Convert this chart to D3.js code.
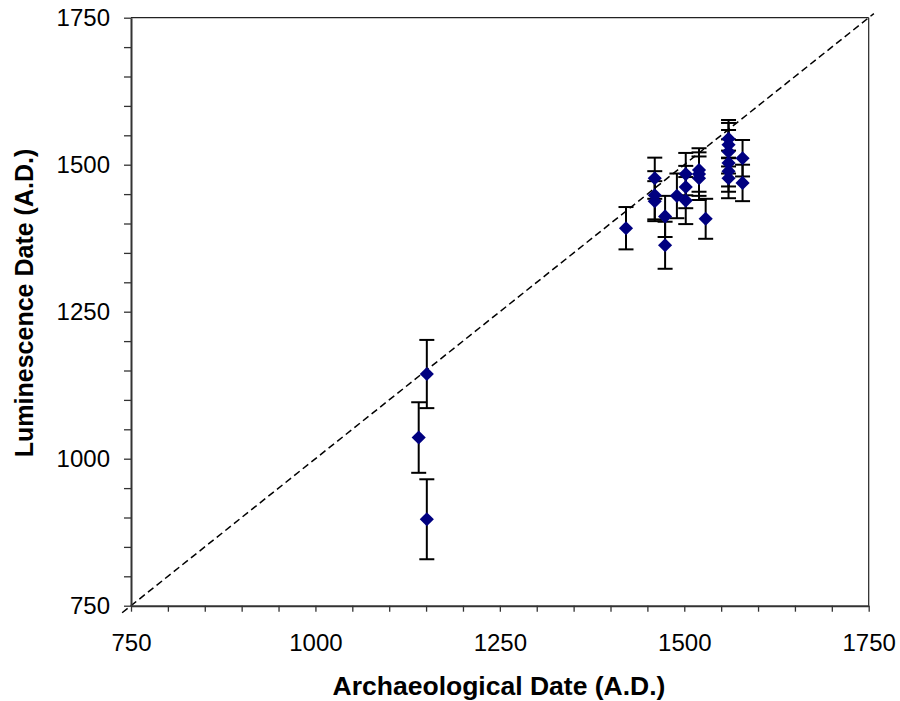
<!DOCTYPE html>
<html>
<head>
<meta charset="utf-8">
<script src="https://cdn.jsdelivr.net/npm/d3@7"></script>
<style>
  body { margin: 0; background: #fff; }
  svg { display: block; font-family: "Liberation Sans", Arial, sans-serif; }
</style>
</head>
<body>
<div id="chart"></div>
<script>
// Archaeological date (x), luminescence date (y) and its error (+/-)
const archDates = [1151, 1140, 1151, 1421, 1460, 1460, 1460, 1474, 1474, 1490, 1502, 1502, 1502,
    1520, 1520, 1520, 1529, 1560, 1560, 1560, 1560, 1560, 1560, 1579, 1579];
const lumDates = [1144, 1036, 897, 1392, 1477, 1448, 1438, 1412, 1363, 1447, 1484, 1462, 1439,
    1491, 1484, 1477, 1408, 1544, 1534, 1522, 1503, 1489, 1477, 1511, 1469];
const lumErrors = [58, 60, 68, 36, 35, 41, 34, 35, 40, 38, 36, 36, 40,
    37, 37, 37, 34, 32, 37, 37, 40, 35, 34, 31, 31];
const majorTicks = [750, 1000, 1250, 1500, 1750];
const minorTicks = d3.range(750, 1751, 50);

const width = 900;
const height = 701;
const margin = { left: 131, right: 900 - 868.7, top: 17.7, bottom: 701 - 605.7 };

const svg = d3.select("#chart").append("svg")
    .attr("width", width)
    .attr("height", height);

const x = d3.scaleLinear().domain([750, 1750]).range([margin.left, width - margin.right]);
const y = d3.scaleLinear().domain([750, 1750]).range([height - margin.bottom, margin.top]);

const data = archDates.map((a, i) => ({ a: a, l: lumDates[i], e: lumErrors[i] }));

// caixa (topo e direita)
svg.append("line")
    .attr("x1", x(750)).attr("x2", x(1750)).attr("y1", y(1750)).attr("y2", y(1750))
    .attr("stroke", "#222").attr("stroke-width", 1.2);
svg.append("line")
    .attr("x1", x(1750)).attr("x2", x(1750)).attr("y1", y(750)).attr("y2", y(1750))
    .attr("stroke", "#222").attr("stroke-width", 1.2);

// linha 1:1
svg.append("line")
    .attr("x1", x(738)).attr("y1", y(738))
    .attr("x2", x(1757)).attr("y2", y(1757))
    .attr("stroke", "#000")
    .attr("stroke-width", 1.5)
    .attr("stroke-dasharray", "7,4");

// eixos
const fmt = d => majorTicks.includes(d) ? d : "";
const xAxis = svg.append("g")
    .attr("transform", `translate(0,${y(750)})`)
    .call(d3.axisBottom(x).tickValues(minorTicks).tickSize(6).tickSizeOuter(0).tickPadding(22).tickFormat(fmt));
const yAxis = svg.append("g")
    .attr("transform", `translate(${x(750)},0)`)
    .call(d3.axisLeft(y).tickValues(minorTicks).tickSize(7).tickSizeOuter(0).tickPadding(14).tickFormat(fmt));

[xAxis, yAxis].forEach(g => {
    g.select(".domain").attr("stroke", "#333").attr("stroke-width", 2);
    g.selectAll(".tick line").attr("stroke", "#333").attr("stroke-width", 1.3);
    g.selectAll(".tick text").attr("fill", "#000").style("font-size", "24px");
});

// barras de erro
const cap = 7.5;
const err = svg.append("g").attr("stroke", "#000").attr("stroke-width", 2);
err.selectAll("line.v")
    .data(data)
    .join("line")
    .attr("class", "v")
    .attr("x1", d => x(d.a)).attr("x2", d => x(d.a))
    .attr("y1", d => y(d.l - d.e)).attr("y2", d => y(d.l + d.e));
err.selectAll("line.top")
    .data(data)
    .join("line")
    .attr("class", "top")
    .attr("x1", d => x(d.a) - cap).attr("x2", d => x(d.a) + cap)
    .attr("y1", d => y(d.l + d.e)).attr("y2", d => y(d.l + d.e));
err.selectAll("line.bot")
    .data(data)
    .join("line")
    .attr("class", "bot")
    .attr("x1", d => x(d.a) - cap).attr("x2", d => x(d.a) + cap)
    .attr("y1", d => y(d.l - d.e)).attr("y2", d => y(d.l - d.e));

// pontos (losangos)
const diamond = d3.symbol().type(d3.symbolSquare).size(100);
svg.append("g")
    .selectAll("path")
    .data(data)
    .join("path")
    .attr("d", diamond)
    .attr("transform", d => `translate(${x(d.a)},${y(d.l)}) rotate(45)`)
    .attr("fill", "#000080");

// títulos dos eixos
svg.append("text")
    .attr("x", 499)
    .attr("y", 695)
    .attr("text-anchor", "middle")
    .style("font-size", "26.5px")
    .style("font-weight", "bold")
    .text("Archaeological Date (A.D.)");

svg.append("text")
    .attr("transform", `translate(33,303) rotate(-90)`)
    .attr("text-anchor", "middle")
    .style("font-size", "25px")
    .style("font-weight", "bold")
    .text("Luminescence Date (A.D.)");
</script>
</body>
</html>
